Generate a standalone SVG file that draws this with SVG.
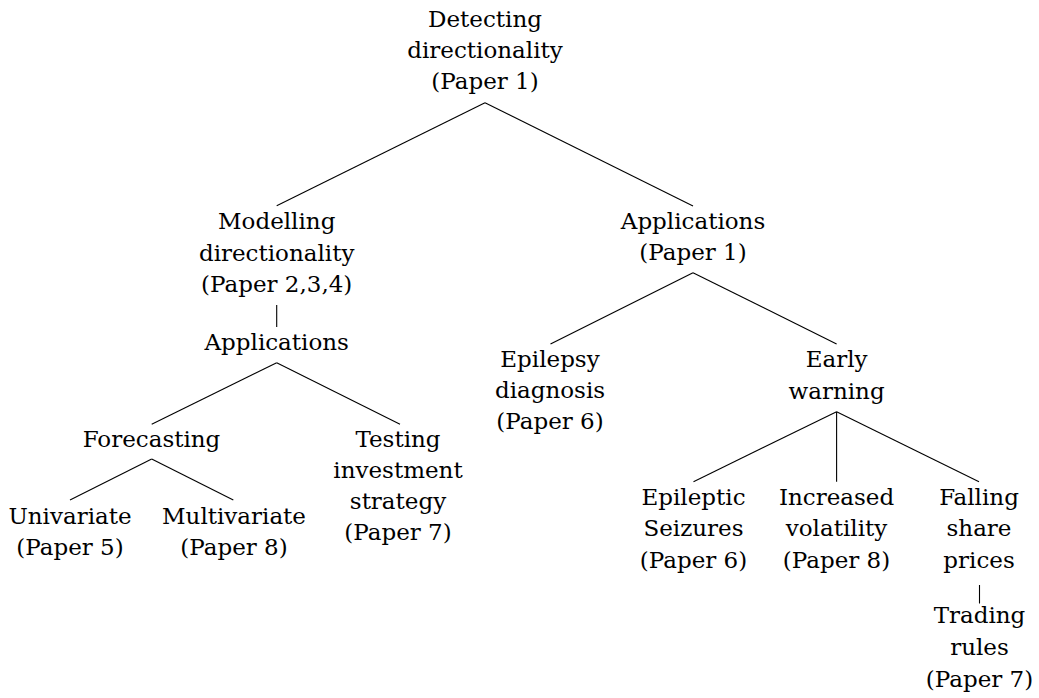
<svg xmlns="http://www.w3.org/2000/svg" width="1039" height="698" viewBox="0 0 1039 698">
<style>
text{font-family:'DejaVu Serif',serif;font-size:23px;fill:#000;text-anchor:middle}
.e line{stroke:#000;stroke-width:1.1;fill:none}
</style>
<rect width="1039" height="698" fill="#fff"/>
<g class="e" id="connectors">
<line x1="485" y1="102.7" x2="276.7" y2="205.7"/>
<line x1="485" y1="102.7" x2="693" y2="206"/>
<line x1="276.7" y1="305" x2="276.7" y2="327"/>
<line x1="276.7" y1="362.7" x2="151.7" y2="424.3"/>
<line x1="276.7" y1="362.7" x2="400" y2="424.3"/>
<line x1="151.7" y1="459" x2="70" y2="500"/>
<line x1="151.7" y1="459" x2="233.3" y2="500"/>
<line x1="693" y1="272.7" x2="550.5" y2="344"/>
<line x1="693" y1="272.7" x2="836.6" y2="344"/>
<line x1="836.6" y1="411.7" x2="693.5" y2="481.7"/>
<line x1="836.6" y1="411.7" x2="836.6" y2="481.7"/>
<line x1="836.6" y1="411.7" x2="979" y2="481.7"/>
<line x1="979.5" y1="585" x2="979.5" y2="603.5"/>
</g>
<g id="root"><text x="485" y="27">Detecting</text><text x="485" y="58.2">directionality</text><text x="485" y="89.4">(Paper 1)</text></g>
<g id="modelling"><text x="276.7" y="229.3">Modelling</text><text x="276.7" y="260.5">directionality</text><text x="276.7" y="291.7">(Paper 2,3,4)</text></g>
<g id="applications-left"><text x="276.7" y="350">Applications</text></g>
<g id="forecasting"><text x="151.5" y="446.5">Forecasting</text></g>
<g id="univariate"><text x="70" y="523.5">Univariate</text><text x="70" y="555">(Paper 5)</text></g>
<g id="multivariate"><text x="234" y="523.5">Multivariate</text><text x="234" y="555">(Paper 8)</text></g>
<g id="testing"><text x="398" y="446.7">Testing</text><text x="398" y="477.7">investment</text><text x="398" y="508.7">strategy</text><text x="398" y="539.7">(Paper 7)</text></g>
<g id="applications-right"><text x="693" y="228.5">Applications</text><text x="693" y="259.7">(Paper 1)</text></g>
<g id="epilepsy"><text x="550" y="366.7">Epilepsy</text><text x="550" y="398">diagnosis</text><text x="550" y="429.3">(Paper 6)</text></g>
<g id="early-warning"><text x="836.6" y="367.3">Early</text><text x="836.6" y="398.5">warning</text></g>
<g id="epileptic"><text x="693.5" y="505">Epileptic</text><text x="693.5" y="536.3">Seizures</text><text x="693.5" y="567.6">(Paper 6)</text></g>
<g id="increased"><text x="836.5" y="505">Increased</text><text x="836.5" y="536.3">volatility</text><text x="836.5" y="567.6">(Paper 8)</text></g>
<g id="falling"><text x="979" y="505">Falling</text><text x="979" y="536.3">share</text><text x="979" y="567.6">prices</text></g>
<g id="trading"><text x="979.5" y="623.3">Trading</text><text x="979.5" y="655">rules</text><text x="979.5" y="686.5">(Paper 7)</text></g>
</svg>
